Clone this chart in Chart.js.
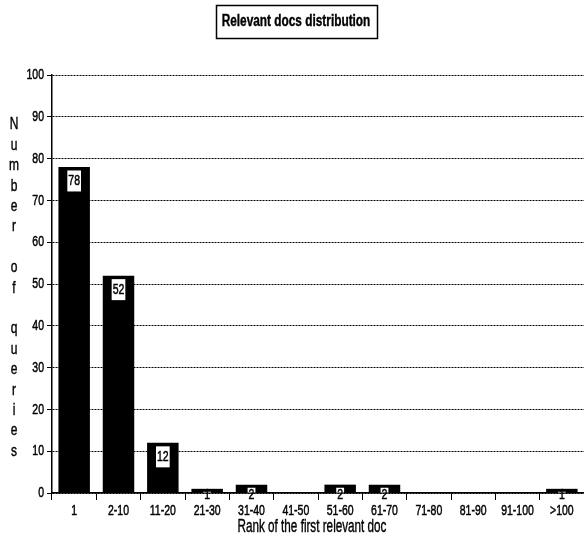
<!DOCTYPE html>
<html>
<head>
<meta charset="utf-8">
<script src="https://cdn.jsdelivr.net/npm/chart.js@4/dist/chart.umd.min.js"></script>
<style>
  html, body { margin: 0; padding: 0; background: #fff; }
  #wrap { width: 584px; height: 540px; position: relative; }
  canvas { display: block; }
</style>
</head>
<body>
<div id="wrap"><canvas id="c" width="584" height="540"></canvas></div>
<script>
const chartTitle = "Relevant docs distribution";
const xTitle = "Rank of the first relevant doc";
const yTitle = "Number of queries";
const categories = ["1", "2-10", "11-20", "21-30", "31-40", "41-50", "51-60", "61-70", "71-80", "81-90", "91-100", ">100"];
const queryCounts = [78, 52, 12, 1, 2, 0, 2, 2, 0, 0, 0, 1];
const yTicks = [0, 10, 20, 30, 40, 50, 60, 70, 80, 90, 100];

const FONT = '"Liberation Sans", Arial, sans-serif';

// draw horizontally condensed text (mimics the narrow bitmap font of the original)
function narrowText(ctx, text, x, y, font, sx, align, heavy) {
  ctx.save();
  ctx.font = font;
  ctx.fillStyle = '#000';
  ctx.strokeStyle = '#000';
  ctx.textBaseline = 'middle';
  ctx.textAlign = align || 'center';
  ctx.translate(x, y);
  ctx.scale(sx, 1);
  ctx.fillText(text, 0, 0);
  if (heavy) { ctx.lineWidth = heavy; ctx.strokeText(text, 0, 0); }
  ctx.restore();
}
function narrowWidth(ctx, text, font, sx) {
  ctx.save(); ctx.font = font;
  const w = ctx.measureText(text).width * sx;
  ctx.restore();
  return w;
}

const TICK_FONT = '15px ' + FONT, TICK_SX = 0.7, HEAVY = 0.5;

const decorPlugin = {
  id: 'decor',
  afterDraw(chart) {
    const ctx = chart.ctx;
    const xs = chart.scales.x, ys = chart.scales.y;
    // title in a box
    const tFont = 'bold 16px ' + FONT, tSx = 0.74;
    const cx = 296, cy = 22;
    narrowText(ctx, chartTitle, cx, cy, tFont, tSx, 'center', 0.4);
    const tw = narrowWidth(ctx, chartTitle, tFont, tSx);
    ctx.save();
    ctx.strokeStyle = '#000';
    ctx.lineWidth = 1.5;
    ctx.strokeRect(Math.round(cx - tw / 2 - 6) + 0.5, 5.5, Math.round(tw + 12), 33);
    ctx.restore();
    // y tick labels
    ys.ticks.forEach((t, i) => {
      const py = ys.getPixelForTick(i);
      narrowText(ctx, String(t.value), xs.left - 8, py, TICK_FONT, TICK_SX, 'right', HEAVY);
    });
    // x tick labels
    categories.forEach((c, i) => {
      const px = xs.getPixelForTick(i);
      narrowText(ctx, c, px, xs.top + 18, TICK_FONT, TICK_SX, 'center', HEAVY);
    });
    // x title
    narrowText(ctx, xTitle, (xs.left + xs.right) / 2 - 6, xs.top + 34, '18px ' + FONT, 0.65, 'center', 0.4);
    // vertical stacked y title
    yTitle.split('').forEach((ch, i) => {
      if (ch !== ' ') narrowText(ctx, ch, 14, 125 + i * 20.4, '16px ' + FONT, 0.75, 'center', 0.4);
    });
  },
  afterDatasetsDraw(chart) {
    const ctx = chart.ctx;
    const meta = chart.getDatasetMeta(0);
    const data = chart.data.datasets[0].data;
    meta.data.forEach((bar, i) => {
      const v = data[i];
      if (!v) return;
      const top = bar.y, base = bar.base;
      const label = String(v);
      const w = narrowWidth(ctx, label, TICK_FONT, TICK_SX) + 2;
      const cyl = Math.min(top + 14, base + 2);
      const half = bar.width / 2;
      ctx.save();
      ctx.beginPath();
      ctx.rect(bar.x - half, top + 3, bar.width, Math.max(0, base - top - 3));
      ctx.clip();
      ctx.fillStyle = '#fff';
      ctx.fillRect(bar.x - w / 2, cyl - 10.5, w, 21);
      ctx.restore();
      narrowText(ctx, label, bar.x, cyl, TICK_FONT, TICK_SX, 'center', HEAVY);
    });
  }
};

new Chart(document.getElementById('c'), {
  type: 'bar',
  data: {
    labels: categories,
    datasets: [{
      data: queryCounts,
      backgroundColor: '#000',
      borderWidth: 0,
      barPercentage: 0.71,
      categoryPercentage: 1.0
    }]
  },
  options: {
    responsive: false,
    animation: false,
    devicePixelRatio: 1,
    layout: { padding: { top: 75, right: 0, bottom: 0, left: 0 } },
    plugins: { legend: { display: false }, tooltip: { enabled: false }, title: { display: false } },
    scales: {
      x: {
        offset: true,
        grid: { display: true, offset: true, drawOnChartArea: false, drawTicks: true, tickLength: 7, color: '#000', tickColor: '#000', lineWidth: 1 },
        border: { display: true, color: '#000', width: 1.5 },
        ticks: { display: false, autoSkip: false },
        title: { display: false },
        afterFit(scale) { scale.height = 47; }
      },
      y: {
        min: 0, max: 100,
        afterBuildTicks(scale) { scale.ticks = yTicks.map(v => ({ value: v })); },
        grid: { color: '#000', lineWidth: 1, drawTicks: true, tickLength: 5, tickColor: '#000', tickBorderDash: [] },
        border: { display: true, color: '#000', width: 1.5, dash: [2, 1] },
        ticks: { display: false },
        afterFit(scale) { scale.width = 52; }
      }
    }
  },
  plugins: [decorPlugin]
});
</script>
</body>
</html>
